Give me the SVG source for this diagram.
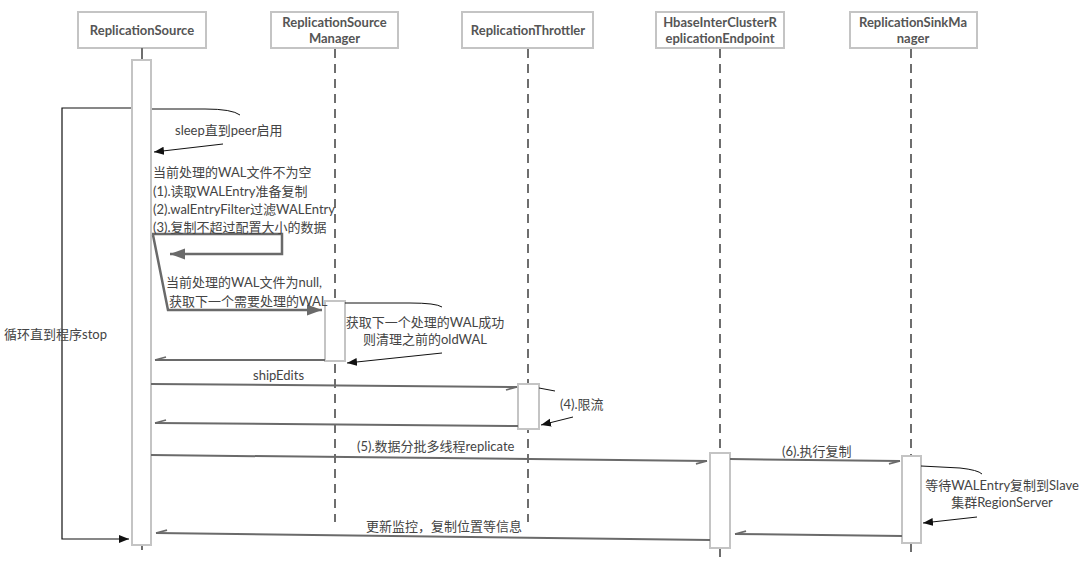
<svg xmlns="http://www.w3.org/2000/svg" width="1080" height="565" viewBox="0 0 1080 565">
<defs>
<style>
.box{fill:#fff;stroke:#c4c4c4;stroke-width:2}
.hd{font-family:Lato,"Noto Sans",sans-serif;font-weight:700;font-size:13px;fill:#555;text-anchor:middle}
.life{stroke:#6e6e6e;stroke-width:2;stroke-dasharray:9 6;fill:none}
.bar{fill:#fff;stroke:#c4c4c4;stroke-width:2}
.msg{stroke:#6a6a6a;stroke-width:2;fill:none}
.thick{stroke:#6a6a6a;stroke-width:2.5;fill:none}
.note{stroke:#111;stroke-width:1;fill:none}
.t{font-family:Lato,"Noto Sans CJK SC",sans-serif;font-size:13px;fill:#444}
</style>
<marker id="half" viewBox="-12 -6 14 12" markerWidth="14" markerHeight="12" refX="0" refY="0" orient="auto" markerUnits="userSpaceOnUse">
<path d="M-11,3 L0,0" stroke="#6a6a6a" stroke-width="1.6" fill="none"/>
</marker>
<marker id="blk" viewBox="-10 -5 11 10" markerWidth="11" markerHeight="10" refX="0" refY="0" orient="auto" markerUnits="userSpaceOnUse">
<path d="M-10,-4 L0,0 L-10,4 Z" fill="#111"/>
</marker>
<marker id="gry" viewBox="-15 -6 16 12" markerWidth="16" markerHeight="12" refX="0" refY="0" orient="auto" markerUnits="userSpaceOnUse">
<path d="M-15,-5.5 L0,0 L-15,5.5 Z" fill="#6a6a6a"/>
</marker>
</defs>
<rect width="1080" height="565" fill="#fff"/>

<g id="ReplicationSource">
<rect class="box" x="78" y="12" width="128" height="36"/>
<text class="hd" x="142" y="35">ReplicationSource</text>
<line x1="142" y1="48" x2="142" y2="60" stroke="#6e6e6e" stroke-width="2"/>
<line x1="142" y1="545" x2="142" y2="550" stroke="#6e6e6e" stroke-width="2"/>
<rect class="bar" x="132" y="60" width="19" height="485"/>
</g>

<g id="ReplicationSourceManager">
<rect class="box" x="271" y="12" width="127" height="36"/>
<text class="hd" x="334.5" y="27">ReplicationSource</text>
<text class="hd" x="334.5" y="43">Manager</text>
<line class="life" x1="335" y1="49" x2="335" y2="522"/>
<rect class="bar" x="325" y="301" width="20" height="60"/>
</g>

<g id="ReplicationThrottler">
<rect class="box" x="462" y="12" width="131" height="36"/>
<text class="hd" x="528" y="35">ReplicationThrottler</text>
<line class="life" x1="528" y1="49" x2="528" y2="522"/>
<rect class="bar" x="518" y="384" width="21" height="45"/>
</g>

<g id="HbaseInterClusterReplicationEndpoint">
<rect class="box" x="656" y="12" width="128" height="36"/>
<text class="hd" x="720" y="27">HbaseInterClusterR</text>
<text class="hd" x="720" y="43">eplicationEndpoint</text>
<line class="life" x1="720" y1="49" x2="720" y2="453"/>
<line class="life" x1="720" y1="548" x2="720" y2="557"/>
<rect class="bar" x="710" y="453" width="20" height="95"/>
</g>

<g id="ReplicationSinkManager">
<rect class="box" x="850" y="12" width="127" height="36"/>
<text class="hd" x="913" y="27">ReplicationSinkMa</text>
<text class="hd" x="913" y="43">nager</text>
<line class="life" x1="911" y1="49" x2="911" y2="456"/>
<line class="life" x1="911" y1="543" x2="911" y2="556"/>
<rect class="bar" x="902" y="456" width="19" height="87"/>
</g>

<g id="connectors">
<!-- loop -->
<polyline points="131,108 62,108 62,539 129,539" fill="none" stroke="#111" stroke-width="1.2" marker-end="url(#blk)"/>
<!-- sleep note -->
<path class="note" d="M152,109 L205,109 Q232,109 240,115"/>
<line class="note" x1="223" y1="144" x2="154" y2="152" marker-end="url(#blk)"/>
<!-- self loop -->
<polyline class="thick" points="152,234 282,234 282,254 170,254" marker-end="url(#gry)"/>
<polyline class="thick" points="153,235 168,310 322,310" marker-end="url(#gry)"/>
<!-- manager note -->
<path class="note" d="M345,303 L410,303 Q436,303 442,307"/>
<line class="note" x1="442" y1="353" x2="347" y2="363" marker-end="url(#blk)"/>
<line class="msg" x1="325" y1="360" x2="155" y2="360" marker-end="url(#half)"/>
<!-- shipEdits -->
<line class="msg" x1="151" y1="384" x2="517" y2="387" marker-end="url(#half)"/>
<line class="note" x1="539" y1="388" x2="555" y2="391"/>
<line class="note" x1="573" y1="417" x2="541" y2="425" marker-end="url(#blk)"/>
<line class="msg" x1="518" y1="426" x2="155" y2="423" marker-end="url(#half)"/>
<!-- (5) -->
<line class="msg" x1="151" y1="455" x2="707" y2="461" marker-end="url(#half)"/>
<!-- (6) -->
<line class="msg" x1="730" y1="459" x2="900" y2="461" marker-end="url(#half)"/>
<path class="note" d="M921,466 L960,468 Q978,470 982,474"/>
<line class="note" x1="977" y1="517" x2="923" y2="523" marker-end="url(#blk)"/>
<line class="msg" x1="902" y1="536" x2="735" y2="534" marker-end="url(#half)"/>
<line class="msg" x1="710" y1="540" x2="156" y2="533" marker-end="url(#half)"/>
</g>

<g id="labels">
<text class="t" x="4" y="339">循环直到程序stop</text>
<text class="t" x="175" y="135">sleep直到peer启用</text>
<text class="t" x="153" y="177">当前处理的WAL文件不为空</text>
<text class="t" x="153" y="196">(1).读取WALEntry准备复制</text>
<text class="t" x="153" y="214">(2).walEntryFilter过滤WALEntry</text>
<text class="t" x="153" y="232">(3).复制不超过配置大小的数据</text>
<text class="t" x="166" y="287">当前处理的WAL文件为null,</text>
<text class="t" x="169" y="306">获取下一个需要处理的WAL</text>
<text class="t" x="425" y="327" text-anchor="middle">获取下一个处理的WAL成功</text>
<text class="t" x="425" y="344" text-anchor="middle">则清理之前的oldWAL</text>
<text class="t" x="253" y="380">shipEdits</text>
<text class="t" x="560" y="409">(4).限流</text>
<text class="t" x="357" y="451">(5).数据分批多线程replicate</text>
<text class="t" x="782" y="456">(6).执行复制</text>
<text class="t" x="1002" y="490" text-anchor="middle" font-size="12.5">等待WALEntry复制到Slave</text>
<text class="t" x="1002" y="507" text-anchor="middle" font-size="12.5">集群RegionServer</text>
<text class="t" x="366" y="531">更新监控，复制位置等信息</text>
</g>
</svg>
